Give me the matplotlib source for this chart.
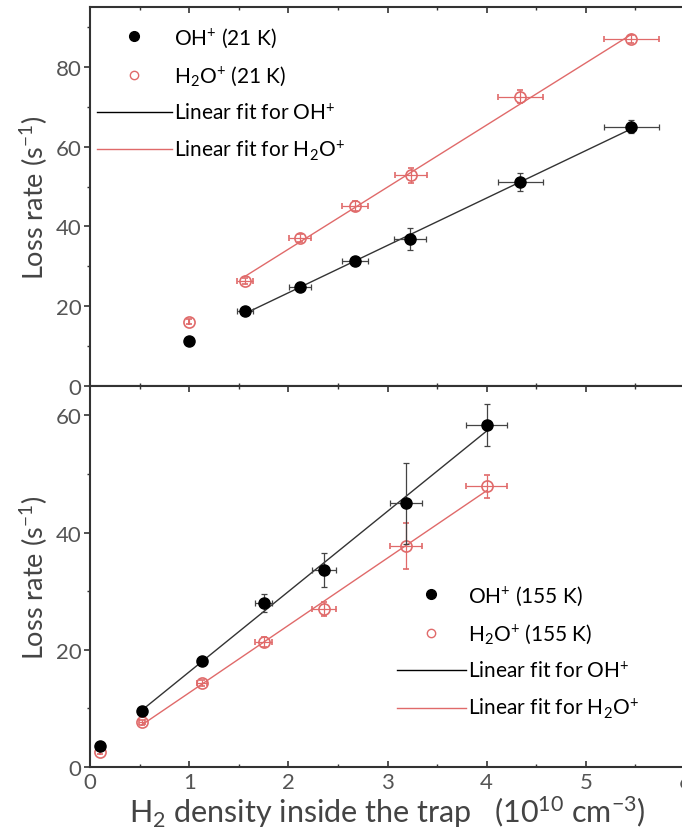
import matplotlib
matplotlib.use("Agg")
import matplotlib.pyplot as plt
import numpy as np
from matplotlib.ticker import MultipleLocator

plt.rcParams['font.family'] = ['Lato', 'DejaVu Sans']
plt.rcParams['mathtext.default'] = 'regular'

# 21 K data (top panel)
x_oh_21 = [1.0, 1.56, 2.12, 2.67, 3.23, 4.34, 5.46]
y_oh_21 = [11.2, 18.7, 24.9, 31.4, 36.8, 51.1, 65.0]
xe_oh_21 = [0.0, 0.08, 0.11, 0.13, 0.16, 0.23, 0.28]
ye_oh_21 = [0.6, 0.8, 1.2, 1.0, 2.7, 2.3, 1.6]

x_h2o_21 = [1.0, 1.56, 2.12, 2.67, 3.24, 4.34, 5.46]
y_h2o_21 = [16.1, 26.4, 37.0, 45.1, 52.8, 72.5, 87.0]
xe_h2o_21 = [0.0, 0.08, 0.11, 0.13, 0.16, 0.23, 0.28]
ye_h2o_21 = [0.6, 0.8, 1.0, 1.2, 1.8, 1.6, 1.0]

# 155 K data (bottom panel)
x_oh_155 = [0.1, 0.52, 1.13, 1.75, 2.36, 3.19, 4.0]
y_oh_155 = [3.6, 9.5, 18.1, 28.0, 33.6, 45.0, 58.4]
xe_oh_155 = [0.0, 0.03, 0.05, 0.09, 0.12, 0.16, 0.21]
ye_oh_155 = [0.3, 0.5, 0.6, 1.5, 2.9, 6.9, 3.6]

x_h2o_155 = [0.1, 0.52, 1.13, 1.75, 2.36, 3.19, 4.0]
y_h2o_155 = [2.6, 7.6, 14.4, 21.3, 27.0, 37.7, 47.9]
xe_h2o_155 = [0.0, 0.03, 0.05, 0.09, 0.12, 0.16, 0.21]
ye_h2o_155 = [0.3, 0.4, 0.5, 0.8, 1.2, 4.0, 2.0]

red = '#e06a6a'

fig = plt.figure(figsize=(6.82, 8.37), dpi=100)
ax1 = fig.add_axes([0.132, 0.5376, 0.8724, 0.4528])
ax2 = fig.add_axes([0.132, 0.0824, 0.8724, 0.4552])


def draw(ax, xo, yo, xeo, yeo, xh, yh, xeh, yeh, temp):
    # linear fits exclude the lowest-density point
    po = np.polyfit(xo[1:], yo[1:], 1)
    ph = np.polyfit(xh[1:], yh[1:], 1)
    xs = np.array([xo[1], xo[-1]])
    ax.plot(xs, np.polyval(po, xs), color='#333333', lw=1.0, zorder=2)
    xs = np.array([xh[1], xh[-1]])
    ax.plot(xs, np.polyval(ph, xs), color=red, lw=1.0, zorder=2)

    ax.errorbar(xo, yo, xerr=xeo, yerr=yeo, fmt='o', ms=8, color='black',
                ecolor='#444444', elinewidth=0.9, capsize=2.5, capthick=0.9, zorder=4)
    ax.errorbar(xh, yh, xerr=xeh, yerr=yeh, fmt='o', ms=8, mfc='none', mec=red,
                mew=1.2, ecolor=red, elinewidth=0.9, capsize=2.5, capthick=0.9, zorder=3)

    # legend handles
    ax.plot([], [], 'o', ms=7, color='black', label='OH$^{+}$ (%s K)' % temp)
    ax.plot([], [], 'o', ms=6, mfc='none', mec=red, mew=1.0,
            label='H$_{2}$O$^{+}$ (%s K)' % temp)
    ax.plot([], [], color='black', lw=1.0, label='Linear fit for OH$^{+}$')
    ax.plot([], [], color=red, lw=1.0, label='Linear fit for H$_{2}$O$^{+}$')


draw(ax1, x_oh_21, y_oh_21, xe_oh_21, ye_oh_21,
     x_h2o_21, y_h2o_21, xe_h2o_21, ye_h2o_21, '21')
draw(ax2, x_oh_155, y_oh_155, xe_oh_155, ye_oh_155,
     x_h2o_155, y_h2o_155, xe_h2o_155, ye_h2o_155, '155')

for ax in (ax1, ax2):
    ax.set_xlim(0, 6)
    ax.xaxis.set_major_locator(MultipleLocator(1))
    ax.xaxis.set_minor_locator(MultipleLocator(0.5))
    ax.yaxis.set_major_locator(MultipleLocator(20))
    ax.yaxis.set_minor_locator(MultipleLocator(10))
    ax.tick_params(axis='x', which='both', direction='in', top=True, labelsize=16,
                   colors='#333333', labelcolor='#555555')
    ax.tick_params(axis='y', which='both', direction='out', labelsize=16,
                   colors='#333333', labelcolor='#555555', pad=2)
    ax.tick_params(which='major', length=4, width=1.2)
    ax.tick_params(which='minor', length=2.5, width=1.0)
    for s in ax.spines.values():
        s.set_linewidth(1.5)
        s.set_color('#333333')
    ax.set_ylabel('Loss rate (s$^{-1}$)', fontsize=19.5, color='#444444', labelpad=4)

ax1.set_ylim(0, 95)
ax2.set_ylim(0, 65)
ax1.tick_params(axis='x', labelbottom=False, bottom=False)
ax2.set_xlabel('H$_{2}$ density inside the trap   (10$^{10}$ cm$^{-3}$)',
               fontsize=22, color='#444444', labelpad=1)

ax1.legend(loc='upper left', bbox_to_anchor=(-0.01, 0.985), frameon=False,
           fontsize=15, handlelength=3.6, handletextpad=0.1, labelspacing=0.72,
           borderaxespad=0.2)
ax2.legend(loc='lower left', bbox_to_anchor=(0.495, 0.09), frameon=False,
           fontsize=15, handlelength=3.3, handletextpad=0.1, labelspacing=0.72,
           borderaxespad=0.2)

fig.savefig('out.png', dpi=100)
